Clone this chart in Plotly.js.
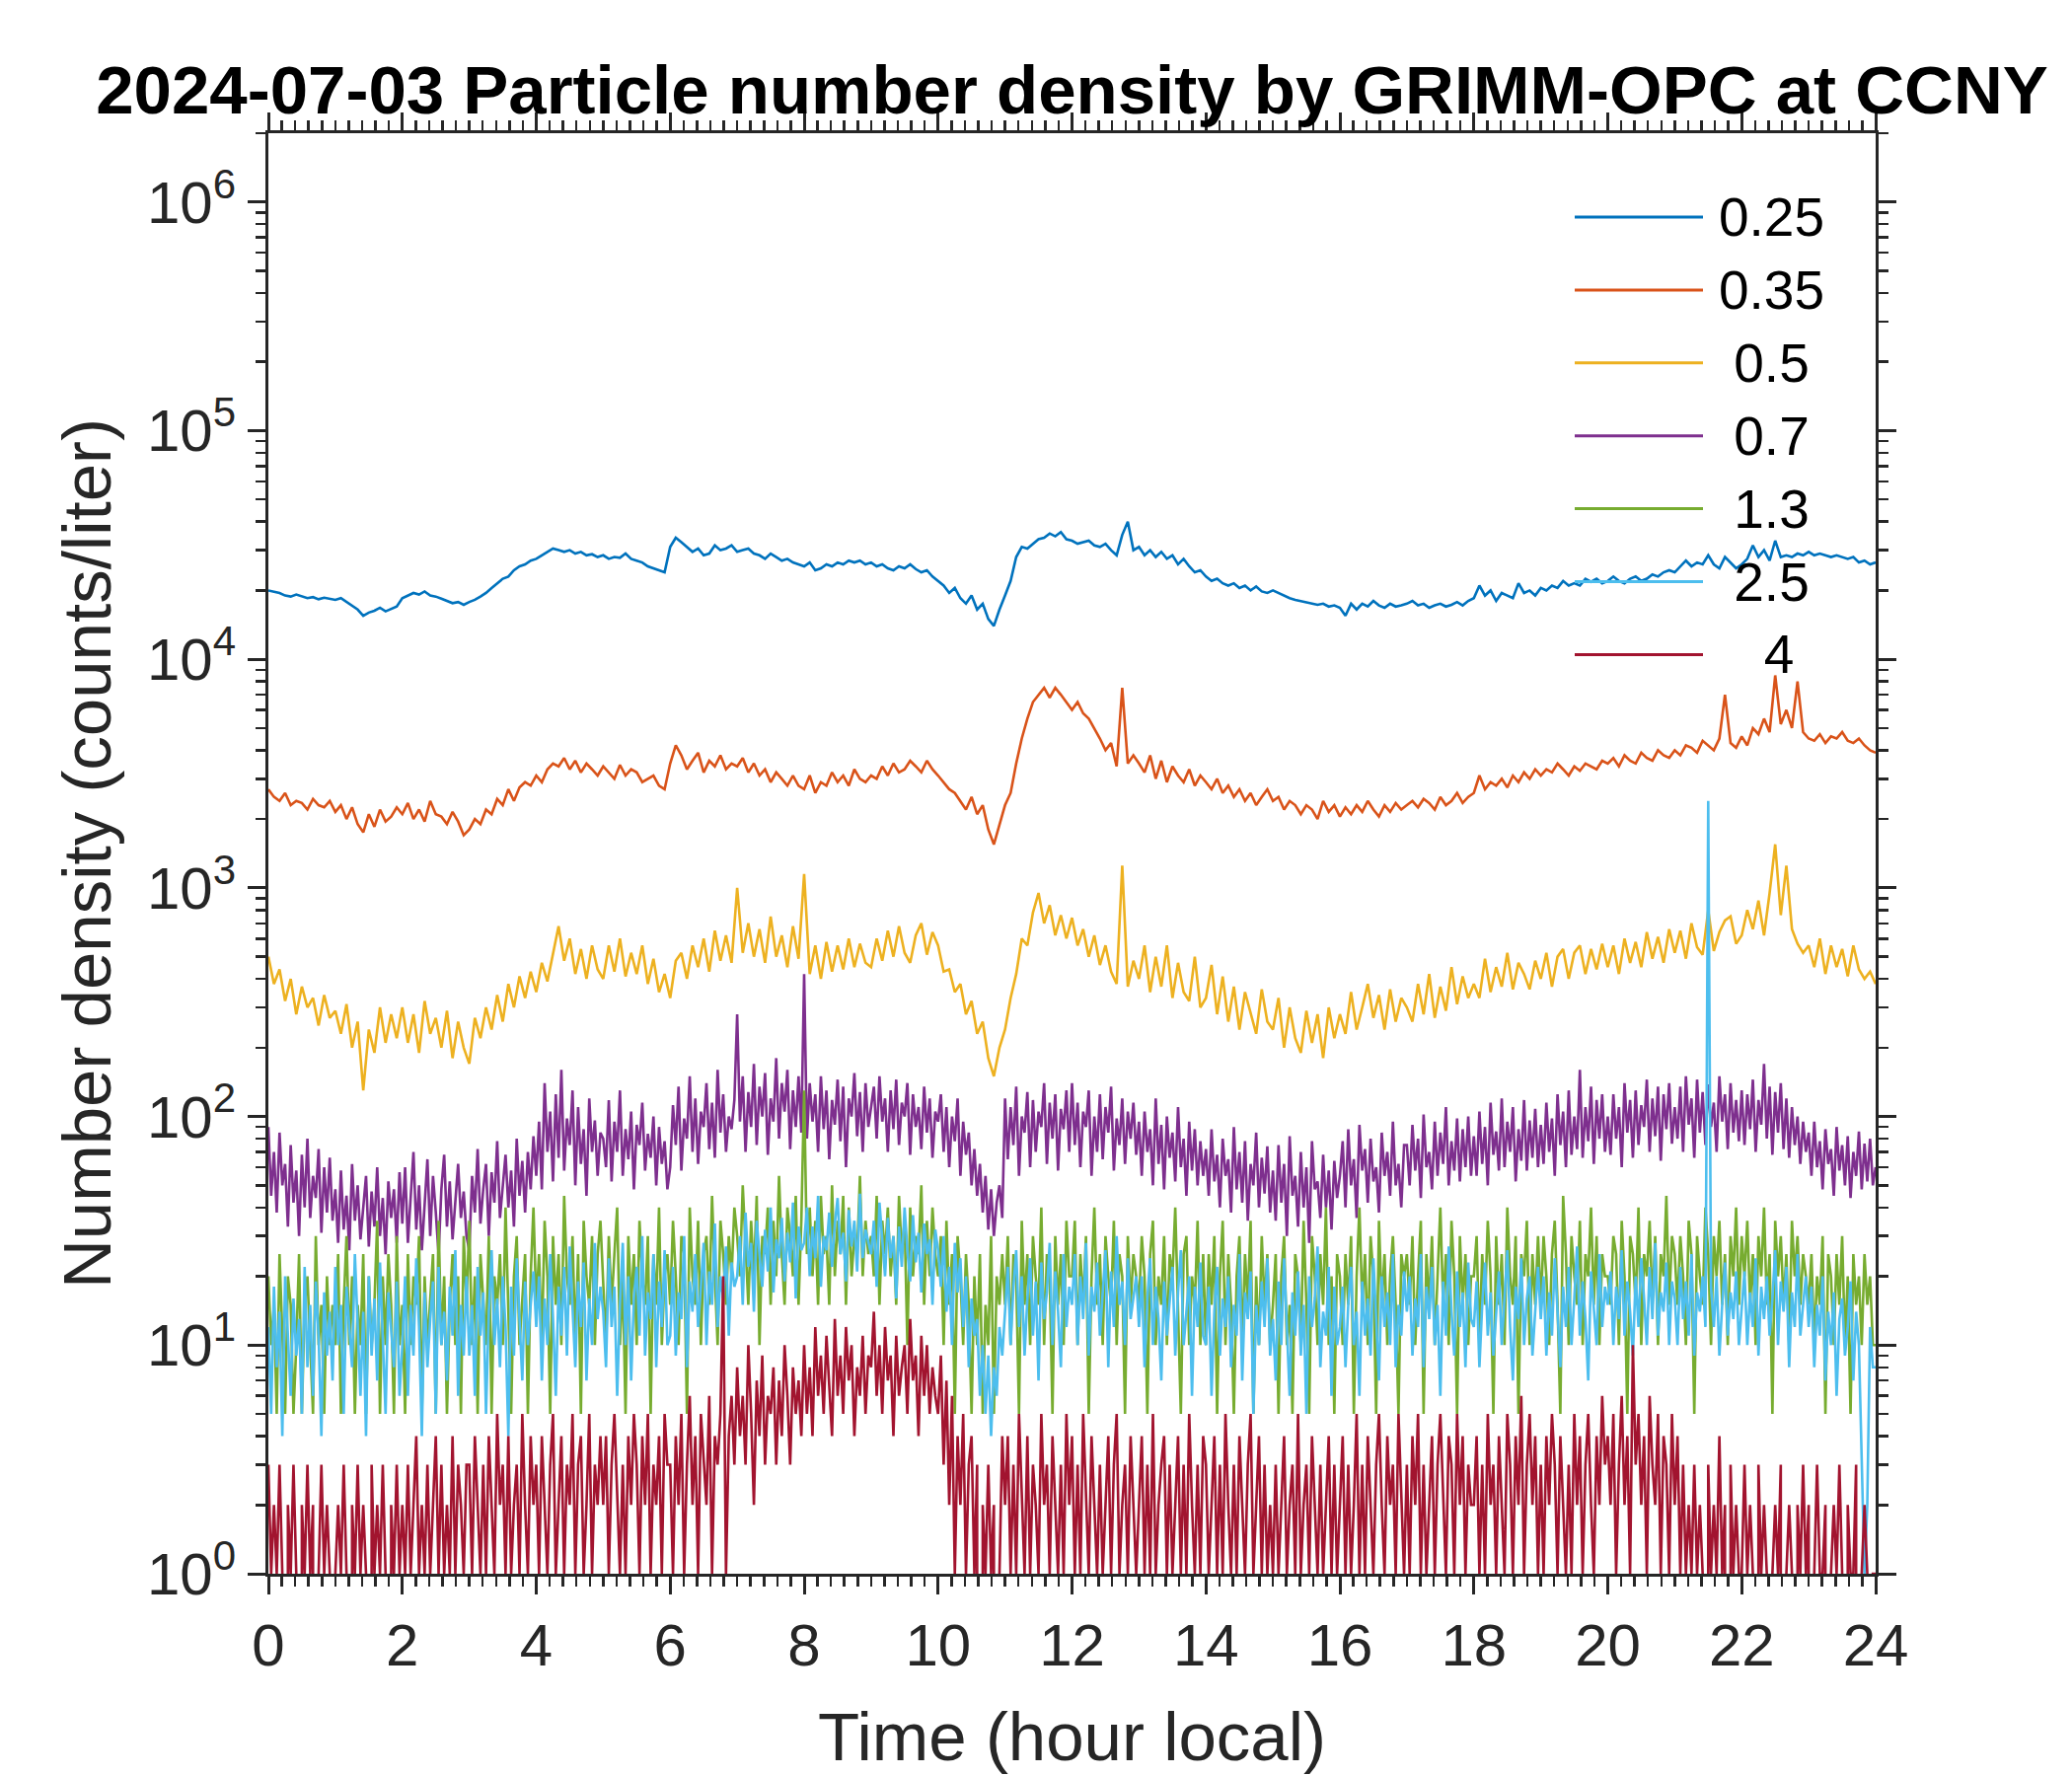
<!DOCTYPE html>
<html>
<head>
<meta charset="utf-8">
<script src="https://cdn.plot.ly/plotly-3.0.1.min.js"></script>
<style>html,body{margin:0;padding:0;background:#fff;}#plot{width:2100px;height:1800px;}</style>
</head>
<body>
<div id="plot"></div>
<script>
// ---- data: regular samples spanning 0..24 h (5-min for the three finest bins, 2.5-min for the others) ----
const d025 = [
20000,19800,19500,19000,18800,19200,18800,18500,18700,18300,18600,18400,
18200,18500,17800,17200,16500,15500,16000,16300,16800,16200,16600,17000,
18500,19000,19500,19200,19800,19000,18800,18400,18000,17600,17800,17300,
17800,18200,18800,19500,20500,21500,22500,23000,24500,25500,26000,27000,
27500,28500,29500,30500,30000,29500,30000,29000,29500,28500,28800,28000,
28500,27500,28000,27800,29000,27500,27000,26500,25500,25000,24500,24000,
31000,34000,32500,31000,29500,30500,28500,29000,31500,30000,30500,31500,
29500,30000,30500,29000,28500,27500,29000,28000,27000,27500,26500,26000,
25500,26500,24500,25000,26000,25500,26500,26000,27000,26500,27000,26000,
26500,25500,26000,25000,24500,25500,25000,26000,24800,24000,24500,23000,
22000,21000,19500,20500,18500,17500,19000,16500,17500,15000,14000,16500,
19000,22000,28000,31000,30500,32000,33500,34000,35500,34500,36000,33500,
33000,32000,32500,33000,31500,31000,32000,30000,28500,35000,40000,30000,
31000,28500,30000,28000,29500,27500,28500,26000,27500,25500,24000,24500,
23000,22000,22500,21500,21000,21500,20500,21000,20000,20800,19800,19500,
20000,19500,19000,18500,18200,18000,17800,17500,17300,17500,17000,17200,
16800,15500,17500,16500,17500,17000,18000,17200,16800,17500,17000,17200,
17500,18000,17200,17500,16800,17200,17500,17000,17300,17800,17200,18000,
18500,21000,19000,20000,18000,19500,19000,18500,21500,19500,20000,19000,
20500,20000,21000,20500,22000,21000,21500,21000,22500,21800,22500,21500,
22000,23000,22000,21500,22500,23000,22000,22500,23500,23000,24000,24500,
24000,25500,27000,25500,26500,26000,28500,26000,25000,28000,26500,25000,
26000,27500,31500,28000,30000,27000,33000,28000,28500,28000,29000,28500,
29500,28500,29000,28500,28000,28500,28000,27500,28000,26500,27000,26000,
26500];

const d035 = [
2700,2500,2400,2600,2300,2400,2350,2200,2450,2300,2250,2400,
2150,2300,2000,2250,1900,1750,2100,1850,2200,1950,2050,2250,
2100,2350,2000,2200,1950,2400,2100,2050,1900,2150,1950,1700,
1800,2000,1900,2200,2100,2450,2300,2700,2400,2750,2900,2800,
3100,2900,3300,3500,3400,3700,3300,3600,3200,3500,3300,3100,
3400,3200,3000,3450,3100,3300,3200,2900,3000,3100,2800,2700,
3500,4200,3800,3300,3600,3900,3200,3600,3400,3800,3300,3500,
3400,3700,3200,3500,3100,3300,2900,3200,3000,2800,3100,2800,
2700,3100,2600,2900,2800,3200,2900,3100,2800,3300,3000,2900,
3100,3000,3400,3100,3500,3200,3300,3600,3400,3200,3600,3300,
3100,2900,2700,2600,2400,2200,2500,2100,2300,1800,1550,1900,
2300,2600,3500,4500,5500,6500,7000,7500,6800,7500,7000,6500,
6000,6500,5800,5500,5000,4500,4000,4300,3400,7500,3500,3800,
3500,3200,3800,3000,3600,2900,3400,3100,2900,3300,2800,3100,
2900,2700,3000,2600,2800,2500,2700,2400,2600,2300,2500,2700,
2400,2500,2200,2400,2300,2100,2300,2200,2000,2400,2150,2300,
2050,2250,2100,2300,2150,2400,2200,2050,2300,2150,2350,2200,
2300,2400,2250,2450,2350,2200,2500,2300,2400,2600,2350,2500,
2600,3100,2700,2900,2800,3000,2750,3100,2900,3200,3000,3300,
3100,3300,3200,3500,3300,3100,3400,3250,3500,3400,3300,3600,
3500,3700,3400,3800,3600,3500,3900,3700,3600,4000,3800,3700,
4000,3800,4200,4100,3900,4400,4200,4000,4500,7000,4300,4100,
4600,4200,5000,4700,5500,4800,8500,5200,6000,5000,8000,4800,
4500,4400,4700,4300,4600,4500,4800,4400,4300,4500,4200,4000,
3900];

const d05 = [
500,380,440,320,400,280,370,300,330,250,340,270,
290,230,310,200,260,130,240,190,300,210,280,220,
300,210,280,190,320,230,270,200,290,180,260,200,
170,270,220,300,240,340,260,380,300,410,330,430,
350,470,390,520,680,480,600,420,540,400,560,440,
400,560,430,600,410,520,420,560,380,490,350,420,
330,480,520,400,560,450,600,430,650,480,620,470,
1000,520,700,500,660,470,750,500,620,450,680,490,
1150,420,560,400,580,430,560,440,600,450,570,470,
450,600,480,650,500,680,520,470,620,700,510,640,
560,430,440,350,380,280,320,230,260,180,150,200,
240,330,420,600,560,780,950,700,840,620,760,600,
740,560,660,500,620,460,560,430,380,1250,370,480,
400,560,350,500,370,560,330,470,350,320,500,300,
330,460,280,410,260,370,240,350,280,230,360,260,
240,330,200,300,220,190,290,210,280,180,300,220,
280,230,350,240,300,380,270,340,240,360,260,330,
300,260,380,280,420,270,370,290,450,310,410,330,
380,330,490,350,450,370,520,360,470,420,360,480,
400,520,370,500,540,400,520,560,420,540,440,570,
450,560,420,600,470,580,450,640,490,610,470,660,
520,650,490,700,550,510,800,530,640,720,750,570,
620,800,660,880,620,950,1550,760,1250,660,570,520,
560,450,600,420,560,450,540,410,560,440,400,430,
380];

const d07 = [
90,45,70,38,85,50,62,33,75,42,58,30,68,40,80,36,55,44,72,31,60,38,66,35,
48,28,58,32,45,26,62,35,50,29,40,55,27,47,33,60,30,44,25,52,36,48,28,57,
34,60,28,45,70,32,50,26,42,65,30,55,38,25,48,68,33,52,29,44,62,36,47,30,
26,55,38,72,34,48,62,30,57,42,78,36,50,68,40,58,33,80,45,64,38,70,48,82,
55,95,48,140,70,105,52,125,66,160,58,98,75,130,50,110,62,88,45,120,70,96,55,85,
80,60,118,52,95,70,130,55,88,65,105,48,92,75,115,58,84,66,100,50,90,62,78,48,
60,112,75,135,58,98,80,150,70,120,62,105,90,140,72,115,66,160,85,125,70,100,88,118,
280,95,150,70,128,90,170,75,135,100,155,68,120,95,180,80,140,105,160,72,130,90,150,85,
420,80,140,95,125,70,150,88,130,65,118,92,145,78,135,60,120,100,155,82,128,70,140,90,
110,135,80,150,95,120,70,130,88,145,75,115,100,140,68,125,90,110,72,135,85,120,66,105,
95,125,70,110,60,100,78,120,55,95,68,85,50,72,45,62,38,55,32,48,30,42,50,36,
120,65,110,75,135,55,100,85,128,60,118,70,105,90,140,62,115,80,125,58,108,88,130,70,
140,75,115,60,105,90,130,55,100,70,125,65,110,85,135,58,98,75,120,62,105,80,115,68,
95,55,105,70,88,50,120,62,92,48,100,66,85,52,110,60,80,45,95,58,88,50,78,55,
72,45,88,52,68,40,80,55,65,38,90,48,70,42,78,35,62,50,85,40,66,46,74,38,
58,35,75,42,62,30,82,45,55,33,70,40,60,28,78,48,52,36,68,40,58,32,64,44,
55,78,40,88,50,65,36,92,58,72,42,80,52,60,38,85,55,70,45,95,50,62,40,75,
75,50,92,58,80,44,102,60,70,48,95,55,85,62,110,50,78,58,98,52,88,60,100,55,
82,55,105,62,90,50,115,68,86,58,120,60,95,70,110,52,88,64,118,58,96,66,108,60,
92,62,115,70,98,55,125,75,105,60,130,68,100,72,160,66,110,78,135,62,118,80,125,70,
100,68,125,80,110,60,140,85,118,66,130,75,112,90,145,70,120,82,135,64,125,88,140,76,
110,80,135,70,150,92,120,66,145,85,128,75,138,90,115,70,150,95,125,72,140,85,118,78,
130,75,125,88,145,70,118,92,170,80,135,68,128,85,140,72,120,66,110,75,100,62,95,70,
85,55,95,60,78,48,88,62,72,45,90,58,75,50,82,44,70,55,86,48,76,52,80,50,
60];

const d13 = [
20,10,15,5,25,10,5,20,15,5,10,25,5,15,20,10,5,30,10,15,5,20,10,15,
10,25,5,15,30,10,20,5,15,10,25,5,20,10,15,35,5,20,10,25,15,5,30,10,
15,5,25,10,20,15,30,5,20,10,15,25,5,35,10,20,5,15,25,10,20,5,30,15,
35,10,20,5,25,15,10,30,5,20,15,25,10,40,15,5,20,30,10,15,25,5,20,40,
15,25,10,35,20,5,30,15,25,10,45,20,15,30,10,25,5,35,20,15,30,10,25,35,
20,10,30,15,25,40,10,20,5,30,15,25,10,35,20,15,30,5,25,15,40,10,20,25,
15,35,20,10,30,25,5,40,20,15,35,10,25,30,15,45,20,10,35,25,15,30,20,40,
30,20,50,25,15,35,20,45,10,30,25,40,15,35,20,55,25,15,40,30,20,45,15,35,
130,25,40,20,35,15,45,25,30,15,50,20,35,25,45,15,40,20,30,25,55,20,35,25,
30,20,45,15,35,25,40,20,30,15,45,25,35,10,40,20,30,25,50,15,35,20,40,25,
20,30,10,35,15,25,5,30,20,10,25,15,5,20,10,25,5,15,10,30,5,20,15,25,
15,30,10,25,20,5,35,15,25,10,30,20,15,40,10,25,20,5,30,15,25,10,35,20,
20,35,10,25,15,30,5,20,40,15,25,10,30,20,15,35,10,25,20,5,30,15,25,20,
15,30,20,5,25,35,10,20,15,30,10,25,20,40,15,5,25,30,10,20,15,35,10,25,
10,25,15,30,5,20,35,10,25,15,5,20,30,10,25,15,35,5,20,10,30,15,25,10,
15,25,5,20,30,10,15,5,25,20,10,35,15,5,30,20,10,25,15,40,10,20,5,25,
20,10,25,15,30,5,20,40,15,25,10,30,20,5,35,15,25,10,20,30,15,5,25,20,
25,15,30,10,20,35,5,25,15,30,10,20,40,15,25,10,35,20,5,30,15,25,10,20,
20,30,10,25,15,35,20,5,30,15,25,10,40,20,15,30,5,25,20,35,10,25,15,30,
15,30,20,10,25,35,15,5,45,25,10,30,20,15,35,10,25,20,40,15,30,10,25,20,
20,15,30,25,10,35,20,5,30,25,15,40,10,25,20,35,15,30,10,25,20,45,15,30,
25,15,30,20,10,35,25,5,30,20,15,40,25,10,30,20,35,15,25,10,30,20,40,15,
30,20,35,15,25,10,30,20,40,15,25,5,35,20,30,15,25,10,35,20,30,15,25,20,
15,25,10,20,15,30,5,25,20,10,25,15,30,10,20,5,25,15,20,10,25,15,20,10,
10];

const d25 = [
12,5,18,8,14,4,20,10,6,16,9,13,5,22,8,15,6,19,11,4,17,9,14,7,
22,10,15,5,18,12,8,25,11,6,14,4,20,9,16,7,23,10,5,17,12,8,19,6,
10,20,6,15,9,24,12,4,17,8,13,19,5,22,10,14,7,18,11,26,6,15,9,20,
9,15,6,22,11,17,5,14,26,10,16,8,20,12,4,18,9,24,13,7,19,10,15,21,
12,20,7,16,10,25,13,6,18,11,22,9,27,14,8,19,12,23,7,16,10,28,13,18,
14,8,24,12,18,6,15,28,10,20,7,16,22,11,30,9,17,13,25,8,19,12,26,10,
11,22,9,17,13,30,8,19,14,25,12,18,28,10,21,15,34,12,20,16,27,11,23,18,
20,30,15,38,22,28,14,35,25,18,32,21,40,17,29,24,36,19,31,23,42,16,33,26,
28,40,20,33,24,45,18,30,26,38,22,34,44,25,31,19,39,27,35,21,46,24,32,28,
25,35,18,42,28,20,36,24,30,16,33,22,40,26,19,37,23,31,17,34,25,29,15,32,
26,18,30,14,22,10,28,17,24,12,20,8,16,11,13,6,10,5,9,4,8,6,12,9,
14,22,10,18,26,12,20,9,16,24,11,19,7,23,13,17,28,10,21,14,8,25,12,18,
15,25,10,20,13,28,9,18,14,23,11,17,26,8,21,12,30,15,19,10,24,13,16,20,
12,20,8,16,24,10,18,13,7,19,11,15,22,9,17,26,10,14,20,6,18,12,23,11,
10,18,6,14,22,9,16,12,20,8,15,11,25,7,17,13,21,5,15,10,19,12,24,9,
13,7,19,10,24,12,6,17,11,21,9,15,5,20,12,16,27,8,14,11,22,6,18,10,
12,18,8,15,22,10,14,6,19,11,16,9,24,13,7,20,12,17,10,25,8,15,11,21,
14,20,9,16,12,25,8,18,13,22,10,15,6,19,11,27,14,9,21,12,17,8,23,13,
12,19,8,15,23,11,17,9,14,21,10,16,26,12,7,18,13,24,10,16,20,9,15,22,
13,20,9,17,11,24,14,8,18,12,22,10,16,27,11,19,13,7,21,15,10,25,12,18,
15,21,10,18,13,26,11,19,14,9,20,12,24,16,10,22,13,28,11,17,14,23,10,19,
16,10,22,13,19,11,25,9,17,14,20,12,2400,18,12,20,9,15,23,11,17,13,21,10,
14,21,10,17,12,24,9,18,13,20,11,16,26,10,19,14,22,8,17,12,25,11,15,20,
12,18,8,15,11,20,7,14,10,17,6,13,16,9,12,19,7,14,10,3,1,2,12,8,
8];

const d4 = [
3,1,2,1,3,1,0,2,1,3,1,0,2,1,3,1,2,0,1,3,1,2,1,0,
1,2,1,3,1,0,2,1,3,1,2,1,0,3,1,2,1,3,1,0,2,1,3,1,
2,1,3,1,2,4,1,2,1,3,1,2,4,1,3,1,2,1,4,1,3,2,1,3,
3,1,4,2,1,3,1,4,2,1,5,2,3,1,4,1,2,3,1,5,2,1,4,2,
3,1,4,2,1,3,5,1,2,4,1,3,2,5,1,3,4,1,2,5,1,3,2,4,
2,4,1,3,5,2,1,3,1,4,2,5,3,1,4,2,5,1,3,2,4,1,5,3,
3,1,4,2,5,1,3,6,2,4,1,5,3,2,6,1,4,3,5,20,1,4,6,3,
8,4,6,3,10,5,2,7,4,9,3,6,5,8,3,7,4,10,6,3,8,5,7,4,
10,5,8,4,12,6,9,5,11,7,4,13,6,9,5,12,7,10,4,8,6,11,5,9,
8,14,6,10,5,12,7,9,4,11,6,8,10,5,13,7,9,4,11,6,10,5,8,6,
5,9,3,7,2,6,1,4,2,5,1,3,4,1,3,0,2,1,3,1,2,0,1,4,
2,4,1,3,1,5,2,1,4,1,3,2,1,5,2,3,1,4,2,1,3,1,5,2,
4,1,3,1,5,2,1,4,2,1,3,1,2,4,1,3,5,1,2,3,1,4,2,1,
2,4,1,3,1,5,1,2,3,4,1,3,1,2,4,1,3,1,5,2,1,3,1,4,
3,1,2,4,1,3,1,5,2,1,3,1,4,2,1,3,5,1,2,4,1,3,1,2,
1,3,1,2,4,1,2,3,1,5,1,2,3,1,4,2,1,3,1,2,4,1,3,1,
2,4,1,3,1,2,5,1,3,1,4,2,1,3,5,2,1,4,2,3,1,5,2,1,
3,1,4,2,5,1,3,1,2,4,1,3,5,2,1,4,3,1,5,2,4,1,3,2,
2,4,1,3,1,5,2,3,1,4,2,1,5,3,1,4,2,6,1,3,5,2,4,1,
3,1,4,2,5,3,1,4,2,1,3,1,5,2,4,1,3,5,2,1,4,2,6,3,
4,2,5,1,3,6,2,4,1,10,3,5,2,4,1,6,3,2,5,1,4,3,1,5,
2,4,1,3,1,2,1,3,1,2,1,0,3,1,2,1,4,1,2,0,3,1,2,1,
1,3,1,2,1,0,3,1,2,1,0,1,2,1,3,0,1,2,1,0,2,1,3,1,
2,0,1,3,1,1,2,0,1,2,1,3,1,0,2,1,1,3,0,1,2,1,0,1,
1];

const seriesNames  = ['0.25', '0.35', '0.5', '0.7', '1.3', '2.5', '4'];
const seriesLabels = ['0.25', '0.35', '\u00a00.5', '\u00a00.7', '\u00a01.3', '\u00a02.5', '\u00a0\u00a0\u00a04'];
const seriesData   = [d025, d035, d05, d07, d13, d25, d4];
const seriesColors = ['#0072BD', '#D95319', '#EDB120', '#7E2F8E', '#77AC30', '#4DBEEE', '#A2142F'];

const xTickVals = [0, 2, 4, 6, 8, 10, 12, 14, 16, 18, 20, 22, 24];
const yTickVals = [1, 10, 100, 1000, 10000, 100000, 1000000];
const yTickText = ['10<sup>0</sup>', '10<sup>1</sup>', '10<sup>2</sup>', '10<sup>3</sup>', '10<sup>4</sup>', '10<sup>5</sup>', '10<sup>6</sup>'];

// ---- build ----
const FONT = 'Liberation Sans, Arial, Helvetica, sans-serif';
const AX = '#262626';

const traces = seriesData.map((vals, k) => {
  const step = 24 / (vals.length - 1);   // samples evenly cover the 24 h day
  return {
    type: 'scatter',
    mode: 'lines',
    name: seriesNames[k],
    x: vals.map((v, i) => i * step),
    y: vals,
    line: {color: seriesColors[k], width: 2.6},
    showlegend: false,
    hoverinfo: 'skip'
  };
});

const yMinor = [];
for (let e = 0; e < 7; e++) for (let m = 2; m <= 9; m++) {
  const v = m * Math.pow(10, e);
  if (v <= 2e6) yMinor.push(v);
}

// custom legend (MATLAB style: long line samples, no box)
const W = 2100, H = 1800;
const mL = 272, mR = W - 1901, mT = 135, mB = H - 1595;
const pw = W - mL - mR, ph = H - mT - mB;
const toPX = px => (px - mL) / pw;
const toPY = py => 1 - (py - mT) / ph;
const legX0 = 1596, legX1 = 1726, legTextX = 1740, legY0 = 220, legDy = 73.9;
const shapes = [], annotations = [];
seriesNames.forEach((n, k) => {
  const y = toPY(legY0 + k * legDy);
  shapes.push({type: 'line', xref: 'paper', yref: 'paper', layer: 'above',
    x0: toPX(legX0), x1: toPX(legX1), y0: y, y1: y,
    line: {color: seriesColors[k], width: 3}});
  annotations.push({xref: 'paper', yref: 'paper', x: toPX(legTextX), y: y,
    text: seriesLabels[k], showarrow: false, xanchor: 'left', yanchor: 'middle',
    font: {family: FONT, size: 55, color: '#000'}});
});

const layout = {
  width: W, height: H,
  margin: {l: mL, r: mR, t: mT, b: mB, pad: 0},
  paper_bgcolor: '#fff', plot_bgcolor: '#fff',
  font: {family: FONT, color: AX},
  title: {
    text: '<b>2024-07-03 Particle number density by GRIMM-OPC at CCNY</b>',
    font: {family: FONT, size: 69, color: '#000'},
    x: 0.5, xref: 'paper', xanchor: 'center',
    y: 1 - 91 / H, yref: 'container', yanchor: 'middle'
  },
  xaxis: {
    range: [0, 24], tickmode: 'array', tickvals: xTickVals,
    ticks: 'outside', ticklen: 18, tickwidth: 3, tickcolor: AX,
    showline: true, linecolor: AX, linewidth: 3, mirror: 'ticks',
    showgrid: false, zeroline: false,
    tickfont: {family: FONT, size: 60, color: AX},
    minor: {dtick: 0.2, ticks: 'outside', ticklen: 10, tickwidth: 2.5, tickcolor: AX, showgrid: false},
    title: {text: 'Time (hour local)', font: {family: FONT, size: 69, color: AX}, standoff: 36},
    automargin: false
  },
  yaxis: {
    type: 'log', range: [0, Math.log10(2e6)],
    tickmode: 'array', tickvals: yTickVals, ticktext: yTickText,
    ticks: 'outside', ticklen: 18, tickwidth: 3, tickcolor: AX,
    showline: true, linecolor: AX, linewidth: 3, mirror: 'ticks',
    showgrid: false, zeroline: false,
    tickfont: {family: FONT, size: 60, color: AX},
    minor: {tickmode: 'array', tickvals: yMinor, ticks: 'outside', ticklen: 10, tickwidth: 2.5, tickcolor: AX, showgrid: false},
    title: {text: 'Number density (counts/liter)', font: {family: FONT, size: 69, color: AX}, standoff: 14},
    automargin: false
  },
  shapes: shapes,
  annotations: annotations
};

Plotly.newPlot('plot', traces, layout, {staticPlot: true, displayModeBar: false});
</script>
</body>
</html>
